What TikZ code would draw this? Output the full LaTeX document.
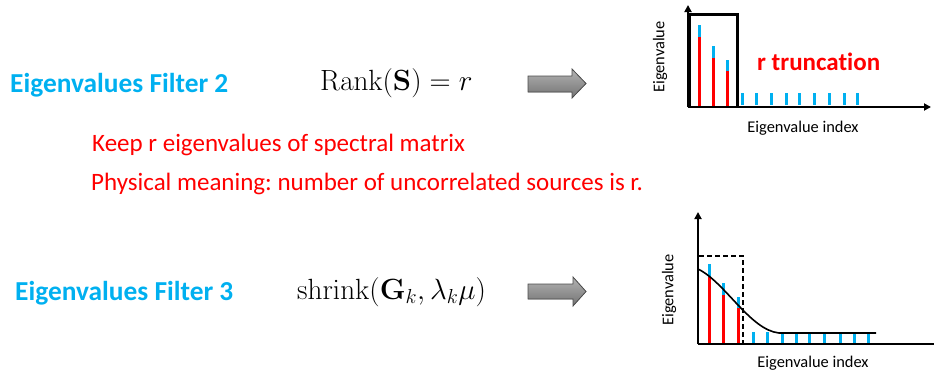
\documentclass[tikz,border=0pt]{standalone}
\usepackage[no-math]{fontspec}
\setmainfont{Carlito}[Ligatures=CommonOff]
\frenchspacing
\usetikzlibrary{arrows.meta}
\definecolor{obl}{HTML}{00B0F0}
\definecolor{ored}{HTML}{FF0000}
\tikzset{
  title/.style={text=obl,font=\bfseries\fontsize{27.4}{32}\selectfont,anchor=west,inner sep=0},
  eq/.style={font=\fontsize{23}{28}\selectfont,inner sep=0,anchor=west,scale=1.175},
  note/.style={text=ored,font=\fontsize{25}{30}\selectfont,anchor=west,inner sep=0},
  axlab/.style={font=\fontsize{16.4}{19}\selectfont,inner sep=0},
  bigarrow/.style={draw=black!70,line width=0.8pt,top color=gray!60,bottom color=gray!90!black},
  redbar/.style={draw=ored,line width=3pt},
  bluebar/.style={draw=obl,line width=3pt},
  axis/.style={line width=1.8pt,-{Triangle[length=7pt,width=7pt]}},
}
\begin{document}
\begin{tikzpicture}[x=1pt,y=-1pt]
\useasboundingbox (0,0) rectangle (934,378);
% left texts
\node[title] (t2) at (10,85) {Eigenvalues Filter 2};
\node[eq] (e2) at (320,83) {$\mathrm{Rank}(\mathbf{S})=r$};
\node[note] (n1) at (92,145) {Keep r eigenvalues of spectral matrix};
\node[note] (n2) at (91,184) {Physical meaning: number of uncorrelated sources is r.};
\node[title] (t3) at (15,293) {Eigenvalues Filter 3};
\node[eq] (e3) at (297,292) {$\mathrm{shrink}(\mathbf{G}_k,\lambda_k\mu)$};
% arrows
\filldraw[bigarrow] (528,76) -- (572,76) -- (572,69) -- (586,83.5) -- (572,98) -- (572,92) -- (528,92) -- cycle;
\filldraw[bigarrow] (528,284) -- (573,284) -- (573,277) -- (586,291.5) -- (573,306) -- (573,299) -- (528,299) -- cycle;
% chart 1
\coordinate (o1) at (688,107);
\coordinate (y1) at (688,5);
\coordinate (x1) at (931,107);
\foreach \x/\b/\r in {699/25/37,713/46/58,727/60/71}{
  \draw[bluebar] (\x,\b) -- (\x,\r);
  \draw[redbar] (\x,\r) -- (\x,107);
}
\foreach \x in {742,756,771,786,799,814,829,844,857}{
  \draw[bluebar] (\x,93) -- (\x,105);
}
\draw[line width=3pt] (689.5,107) -- (689.5,14) -- (737,14) -- (737,107);
\draw[axis] (o1) -- (y1);
\draw[axis] (o1) -- (x1);
\node[text=ored,font=\bfseries\fontsize{25}{29}\selectfont,anchor=west,inner sep=0] (rt) at (757,62) {r truncation};
\node[axlab,rotate=90] (yl1) at (660,57) {Eigenvalue};
\node[axlab] (xl1) at (803,128) {Eigenvalue index};
% chart 2
\coordinate (o2) at (698,344);
\coordinate (y2) at (698,212);
\coordinate (x2) at (934,344);
\foreach \x/\b/\r in {709/264/277,723/283/295,738/297/308}{
  \draw[bluebar] (\x,\b) -- (\x,\r);
  \draw[redbar] (\x,\r) -- (\x,345);
}
\foreach \x in {753,767,782,796,809,824,840,854,868}{
  \draw[bluebar] (\x,332) -- (\x,343);
}
\draw[line width=1.6pt,dashed,dash pattern=on 5pt off 3pt] (699,256) -- (743,256) -- (743,347);
\draw[line width=1.6pt] (698,269) .. controls (725,282) and (750,330) .. (779,333) -- (876,333);
\draw[axis] (o2) -- (y2);
\draw[line width=1.8pt] (o2) -- (x2);
\node[axlab,rotate=90] (yl2) at (669,290) {Eigenvalue};
\node[axlab] (xl2) at (813,363) {Eigenvalue index};
\end{tikzpicture}
\end{document}
